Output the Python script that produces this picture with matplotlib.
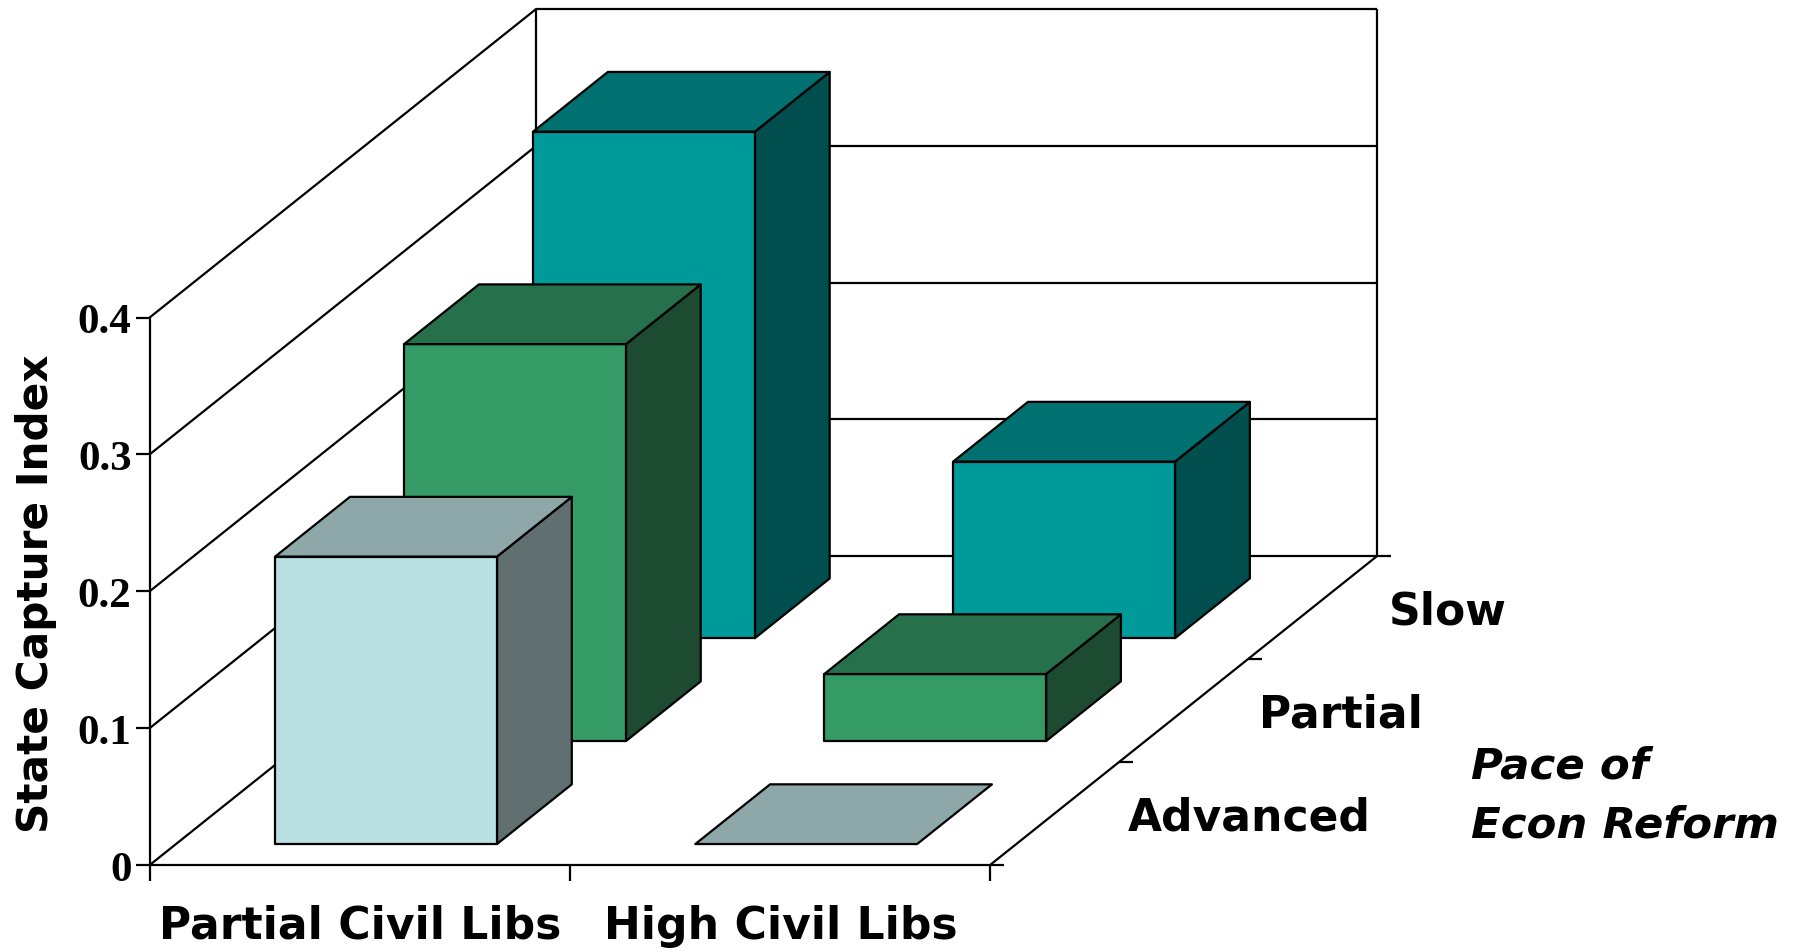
import matplotlib
matplotlib.use("Agg")
import matplotlib.pyplot as plt
from matplotlib.patches import Polygon

# ---- data ----
civil_labels = ["Partial Civil Libs", "High Civil Libs"]
reform_labels = ["Advanced", "Partial", "Slow"]
partial_civil_values = [0.21, 0.29, 0.37]
high_civil_values = [0.0, 0.049, 0.129]
y_ticks = [0, 0.1, 0.2, 0.3, 0.4]
y_tick_labels = ["0", "0.1", "0.2", "0.3", "0.4"]

face_colors = ["#B9E0E3", "#359B66", "#009A9A"]
top_colors = ["#8EA8AA", "#27704C", "#007070"]
side_colors = ["#607070", "#1C4B32", "#004E4E"]

# ---- oblique projection (pixels) ----
S = 1800 / 1568
ORIGIN = (130.3 * S, 754.5 * S)
CAT_W = 366 * S
DEPTH = (112.33 * S, -89.67 * S)
UNIT_H = 1192.5 * S


def proj(x, d, h=0.0):
    return (ORIGIN[0] + x * CAT_W + d * DEPTH[0],
            ORIGIN[1] + d * DEPTH[1] - h * UNIT_H)


fig = plt.figure(figsize=(18, 9.53), dpi=100)
ax = fig.add_axes([0, 0, 1, 1])
ax.set_xlim(0, 1800)
ax.set_ylim(953, 0)
ax.axis("off")

LW = 1.6


def line(a, b, lw=LW):
    ax.plot([a[0], b[0]], [a[1], b[1]], color="black", lw=lw,
            solid_capstyle="butt", zorder=1)


nx, nd = len(civil_labels), len(reform_labels)
top = y_ticks[-1]

# walls and gridlines
for t in y_ticks:
    line(proj(0, 0, t), proj(0, nd, t))
    line(proj(0, nd, t), proj(nx, nd, t))
line(proj(0, 0, 0), proj(0, 0, top))
line(proj(0, nd, 0), proj(0, nd, top))
line(proj(nx, nd, 0), proj(nx, nd, top))
line(proj(0, 0, 0), proj(nx, 0, 0))
line(proj(nx, 0, 0), proj(nx, nd, 0))

# ticks
for t, lab in zip(y_ticks, y_tick_labels):
    px, py = proj(0, 0, t)
    line((px - 14, py), (px, py))
    ax.text(px - 18, py, lab, ha="right", va="center_baseline", fontsize=31,
            fontweight="bold", family="Liberation Serif")
for i in range(nx + 1):
    px, py = proj(i, 0)
    line((px, py), (px, py + 16))
for j in range(nd + 1):
    px, py = proj(nx, j)
    line((px, py), (px + 14, py))


def bar(i, j, v, k):
    x0, x1 = i + 0.236, i + 0.764
    d0, d1 = j + 0.205, j + 0.785
    if v > 0:
        ax.add_patch(Polygon([proj(x1, d0), proj(x1, d1), proj(x1, d1, v), proj(x1, d0, v)],
                             fc=side_colors[k], ec="black", lw=LW, joinstyle="round", zorder=2))
        ax.add_patch(Polygon([proj(x0, d0), proj(x1, d0), proj(x1, d0, v), proj(x0, d0, v)],
                             fc=face_colors[k], ec="black", lw=LW, joinstyle="round", zorder=2))
    ax.add_patch(Polygon([proj(x0, d0, v), proj(x1, d0, v), proj(x1, d1, v), proj(x0, d1, v)],
                         fc=top_colors[k], ec="black", lw=LW, joinstyle="round", zorder=2))


# paint back to front
for j in reversed(range(nd)):
    for i, vals in enumerate([partial_civil_values, high_civil_values]):
        artists_before = len(ax.patches)
        bar(i, j, vals[j], j)
        for p in ax.patches[artists_before:]:
            p.set_zorder(10 + (nd - j) * 10 + i)

# text
label_font = dict(family="DejaVu Sans", fontweight="bold")
ax.text(313.5 * S, 807 * S, civil_labels[0], ha="center", va="center", fontsize=31.7, **label_font)
ax.text(680.5 * S, 807 * S, civil_labels[1], ha="center", va="center", fontsize=31.7, **label_font)
ax.text(1088.5 * S, 713 * S, reform_labels[0], ha="center", va="center", fontsize=31.7, **label_font)
ax.text(1168.5 * S, 623 * S, reform_labels[1], ha="center", va="center", fontsize=31.7, **label_font)
ax.text(1261 * S, 533 * S, reform_labels[2], ha="center", va="center", fontsize=31.7, **label_font)
ax.text(1281 * S, 668 * S, "Pace of", ha="left", va="center", fontsize=31.3, style="italic", **label_font)
ax.text(1281 * S, 719 * S, "Econ Reform", ha="left", va="center", fontsize=31.3, style="italic", **label_font)
ax.text(31 * S, 517.5 * S, "State Capture Index", ha="center", va="center", rotation=90,
        fontsize=30.4, **label_font)

fig.savefig("out.png", dpi=100)
